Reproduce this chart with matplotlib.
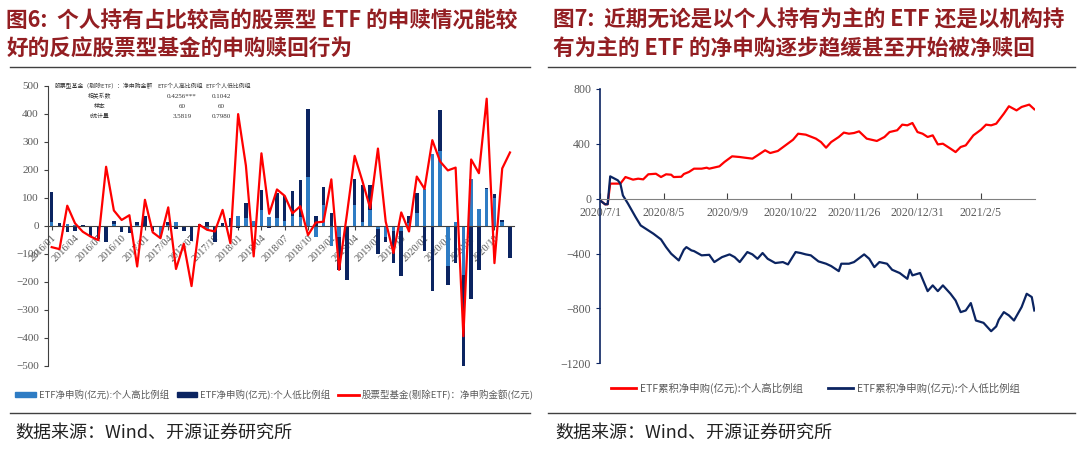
import numpy as np
import matplotlib.pyplot as plt
from matplotlib.lines import Line2D
from matplotlib.patches import Patch

plt.rcParams['font.family'] = ['Noto Sans CJK SC', 'DejaVu Sans']

# ---------------- 图6 数据 (2016/01 - 2020/12, 月度) ----------------
meses = [f"{y}/{m:02d}" for y in range(2016, 2021) for m in range(1, 13)]
# 股票型基金(剔除ETF)净申购金额(亿元)
fondo_acciones = [-76, -83, 72, 9, -21, -38, -51, 211, 55, 21, 38, -145,
                  93, -23, -44, 66, -154, -64, -215, 4, -14, -20, 57, -62,
                  399, 215, -109, 259, 43, 130, 107, 45, 70, -33, 12, 15,
                  166, -157, 40, 250, 160, 63, 276, 15, -97, 48, -20, 176,
                  132, 306, 230, 198, 208, -394, 237, 188, 454, -133, 205, 262]
# ETF净申购(亿元):个人高比例组
etf_alto = [15, 0, 8, 2, 0, 0, 0, 0, 5, 0, 0, 3,
            0, 0, -35, 4, 15, 0, 0, 0, -12, 0, 0, 0,
            36, 27, 18, 55, 33, 28, 19, 35, 33, 173, -38, 75,
            -73, -38, 0, 75, 15, 57, -10, -38, -20, -20, 10, 45,
            130, 256, 267, -145, 13, -174, 166, 59, 130, 100, 15, 0]
# ETF净申购(亿元):个人低比例组
etf_bajo = [107, 11, -21, -18, 3, -38, -48, -56, 13, -21, -24, 12,
            36, -20, -3, 10, -10, -20, -55, 7, 13, -56, 10, 28,
            -6, 54, 0, 73, -6, 88, 88, 90, 131, 243, 37, 65,
            47, -119, -195, 91, 131, 89, -90, -18, -113, -160, 27, 74,
            -91, -234, 146, -65, -133, -326, -261, -157, 4, 12, 6, -115]

tabla_filas = [["相关系数", "0.4256***", "0.1042"],
               ["样本", "60", "60"],
               ["t统计量", "3.5819", "0.7980"]]

# ---------------- 图7 数据 (交易日序号, 累积净申购 亿元) ----------------
dias_alto = [0, 2, 3, 4, 8, 10, 13, 15, 17, 19, 22, 24, 26, 28, 29, 32, 33, 35, 37, 40,
             42, 43, 47, 49, 52, 55, 57, 60, 62, 65, 67, 70, 73, 76, 78, 81, 85, 87, 89, 91,
             94, 96, 98, 100, 102, 105, 109, 112, 114, 117, 119, 121, 123, 125, 127, 129, 131, 133, 135, 138,
             140, 142, 144, 147, 150, 152, 154, 156, 159, 161, 164, 166, 169, 171]
acum_alto = [-12, -41, -40, 110, 110, 158, 139, 146, 141, 178, 182, 158, 178, 175, 158, 160, 180, 195, 219, 219,
             226, 219, 236, 268, 309, 304, 299, 292, 316, 353, 333, 348, 389, 430, 474, 467, 438, 413, 372, 413,
             450, 482, 474, 479, 491, 438, 421, 450, 486, 499, 540, 535, 552, 486, 474, 450, 462, 396, 401, 365,
             340, 377, 389, 462, 503, 540, 535, 547, 620, 674, 644, 669, 686, 652]
dias_bajo = [0, 2, 3, 4, 7, 8, 9, 11, 14, 16, 19, 21, 24, 26, 28, 31, 33, 34, 36, 37,
             40, 43, 45, 48, 51, 53, 55, 58, 60, 62, 64, 66, 69, 72, 74, 77, 79, 81, 83, 86,
             89, 91, 94, 95, 98, 100, 104, 106, 108, 110, 113, 115, 118, 121, 122, 123, 126, 129, 131, 133,
             135, 138, 140, 142, 144, 146, 148, 151, 154, 156, 157, 159, 161, 163, 166, 168, 170, 171]
acum_bajo = [-12, -41, -40, 163, 134, 110, 24, -36, -134, -195, -231, -255, -297, -353, -401, -450, -372, -353, -377, -382,
             -413, -409, -462, -426, -406, -426, -462, -389, -406, -438, -396, -438, -469, -462, -479, -389, -396, -406, -413, -457,
             -474, -491, -528, -474, -474, -462, -406, -438, -499, -462, -474, -518, -542, -584, -518, -559, -542, -674, -632, -674,
             -632, -693, -742, -827, -815, -761, -888, -905, -966, -931, -883, -827, -851, -888, -790, -693, -717, -815]
fechas_ticks = ["2020/7/1", "2020/8/5", "2020/9/9", "2020/10/22", "2020/11/26", "2020/12/31", "2021/2/5"]

# colores
azul_claro = '#2E7CC4'
azul_oscuro = '#0B2461'
rojo = '#FF0000'
gris = '#595959'
titulo_color = '#931E22'
serif = ['Liberation Serif', 'DejaVu Serif']

fig = plt.figure(figsize=(10.8, 4.54), dpi=100)

# ---------------- 图6 ----------------
ax1 = fig.add_axes([0.0443, 0.194, 0.4315, 0.617])
x = np.arange(len(meses))
alto = np.array(etf_alto)
bajo = np.array(etf_bajo)
base = np.where(np.sign(alto) == np.sign(bajo), alto, 0)
ax1.bar(x, alto, width=0.45, color=azul_claro, zorder=2)
ax1.bar(x, bajo, bottom=base, width=0.45, color=azul_oscuro, zorder=2)
ax1.plot(x, fondo_acciones, color=rojo, lw=1.6, zorder=3)
ax1.set_xlim(-0.5, 59.5)
ax1.set_ylim(-500, 500)
ax1.set_yticks(np.arange(-500, 501, 100))
for s in ['top', 'right']:
    ax1.spines[s].set_visible(False)
ax1.spines['bottom'].set_position(('data', 0))
ax1.spines['bottom'].set_color('#404040')
ax1.spines['left'].set_color('#404040')
ax1.set_xticks(x[::3])
ax1.set_xticklabels(meses[::3], rotation=45, ha='right', va='top',
                    rotation_mode='anchor', family=serif, fontsize=7.5, color=gris)
ax1.tick_params(axis='x', length=3, color='#404040', pad=2)
ax1.tick_params(axis='y', length=3, color='#404040', labelsize=8, labelcolor=gris)
for t in ax1.get_yticklabels():
    t.set_family(serif)

# tabla de correlacion
fs_t = 4.2
ax1.text(0.015, 0.998, "股票型基金（剔除ETF）：净申购金额", transform=ax1.transAxes,
         fontsize=fs_t, color='#333333', va='center', ha='left')
ax1.text(0.283, 0.998, "ETF个人高比例组", transform=ax1.transAxes,
         fontsize=fs_t, color='#333333', va='center', ha='center')
ax1.text(0.387, 0.998, "ETF个人低比例组", transform=ax1.transAxes,
         fontsize=fs_t, color='#333333', va='center', ha='center')
for i, fila in enumerate(tabla_filas):
    yy = 0.962 - i * 0.035
    ax1.text(0.112, yy, fila[0], transform=ax1.transAxes, fontsize=fs_t, color='#333333', va='center', ha='center')
    ax1.text(0.288, yy, fila[1], transform=ax1.transAxes, fontsize=5, color='#333333', va='center', ha='center', family=serif)
    ax1.text(0.372, yy, fila[2], transform=ax1.transAxes, fontsize=5, color='#333333', va='center', ha='center', family=serif)

handles1 = [Patch(color=azul_claro), Patch(color=azul_oscuro), Line2D([], [], color=rojo, lw=2)]
labels1 = ["ETF净申购(亿元):个人高比例组", "ETF净申购(亿元):个人低比例组", "股票型基金(剔除ETF)：净申购金额(亿元)"]
fig.legend(handles1, labels1, ncol=3, loc='center', bbox_to_anchor=(0.254, 0.13), frameon=False,
           fontsize=6.8, labelcolor=gris, handlelength=2.2, handleheight=0.5, columnspacing=0.8, handletextpad=0.3)

# ---------------- 图7 ----------------
ax2 = fig.add_axes([0.5556, 0.1998, 0.4028, 0.6042])
ax2.plot(dias_alto, acum_alto, color=rojo, lw=1.6)
ax2.plot(dias_bajo, acum_bajo, color=azul_oscuro, lw=1.6)
ax2.set_xlim(0, 171.3)
ax2.set_ylim(-1200, 800)
ax2.set_yticks(np.arange(-1200, 801, 400))
for s in ['top', 'right']:
    ax2.spines[s].set_visible(False)
ax2.spines['bottom'].set_position(('data', 0))
ax2.spines['bottom'].set_color('#808080')
ax2.spines['left'].set_color(azul_oscuro)
ax2.spines['left'].set_linewidth(1.2)
ax2.set_xticks(np.arange(0, 151, 25))
ax2.set_xticklabels(fechas_ticks, family=serif, fontsize=8.5, color=gris)
ax2.tick_params(axis='x', direction='in', length=4, color='#404040', pad=6)
ax2.tick_params(axis='y', length=3, color=azul_oscuro, labelsize=8.5, labelcolor=gris)
for t in ax2.get_yticklabels():
    t.set_family(serif)

handles2 = [Line2D([], [], color=rojo, lw=2), Line2D([], [], color=azul_oscuro, lw=2)]
labels2 = ["ETF累积净申购(亿元):个人高比例组", "ETF累积净申购(亿元):个人低比例组"]
fig.legend(handles2, labels2, ncol=2, loc='center', bbox_to_anchor=(0.755, 0.145), frameon=False,
           fontsize=7.5, labelcolor=gris, handlelength=2.4, columnspacing=2.5, handletextpad=0.3)

# ---------------- titulos, lineas y fuente ----------------
fs_tit = 15.6
fig.text(0.006, 1 - 20 / 454, "图6:  个人持有占比较高的股票型 ETF 的申赎情况能较", fontsize=fs_tit,
         weight='bold', color=titulo_color, va='center', ha='left')
fig.text(0.006, 1 - 48 / 454, "好的反应股票型基金的申购赎回行为", fontsize=fs_tit,
         weight='bold', color=titulo_color, va='center', ha='left')
fig.text(0.512, 1 - 20 / 454, "图7:  近期无论是以个人持有为主的 ETF 还是以机构持", fontsize=fs_tit,
         weight='bold', color=titulo_color, va='center', ha='left')
fig.text(0.512, 1 - 48 / 454, "有为主的 ETF 的净申购逐步趋缓甚至开始被净赎回", fontsize=fs_tit,
         weight='bold', color=titulo_color, va='center', ha='left')

for (x0, x1) in [(10, 530), (548, 1075)]:
    for yl in [67, 413]:
        fig.add_artist(Line2D([x0 / 1080, x1 / 1080], [1 - yl / 454, 1 - yl / 454], color='#404040', lw=1))

fig.text(15 / 1080, 1 - 433 / 454, "数据来源：Wind、开源证券研究所", fontsize=13, color='#222222', va='center')
fig.text(555 / 1080, 1 - 433 / 454, "数据来源：Wind、开源证券研究所", fontsize=13, color='#222222', va='center')

fig.savefig("out.png", dpi=100)
